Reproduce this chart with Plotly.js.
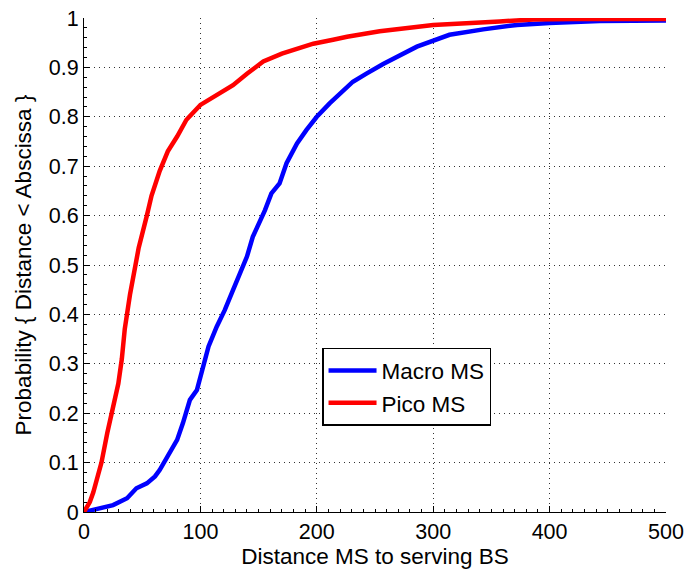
<!DOCTYPE html>
<html>
<head>
<meta charset="utf-8">
<script src="https://cdn.plot.ly/plotly-3.0.1.min.js"></script>
<style>html,body{margin:0;padding:0;background:#fff}#chart{width:684px;height:570px}</style>
</head>
<body>
<div id="chart"></div>
<script>
const macroX = [0, 11, 25, 37, 45, 54, 61, 65, 72, 80, 85, 91, 97, 100, 104, 107, 114, 121, 128, 137, 140, 145, 155.5, 161, 168, 174, 183, 191, 200, 211, 220, 231, 243, 257, 286, 314, 343, 372, 400, 443, 500];
const macroY = [0, 0.007, 0.014, 0.028, 0.048, 0.058, 0.072, 0.085, 0.112, 0.146, 0.18, 0.227, 0.247, 0.274, 0.314, 0.335, 0.375, 0.409, 0.449, 0.497, 0.517, 0.557, 0.611, 0.645, 0.665, 0.706, 0.746, 0.773, 0.80, 0.827, 0.848, 0.871, 0.888, 0.907, 0.942, 0.966, 0.977, 0.986, 0.99, 0.994, 0.995];
const picoX = [0, 5, 8, 15, 20, 24, 29.5, 32.5, 35, 39.5, 44, 47, 54, 58, 65, 72, 80, 88, 100, 114, 128, 140, 154, 170, 185, 197, 214, 226, 254, 300, 357, 386, 420, 500];
const picoY = [0, 0.02, 0.04, 0.10, 0.16, 0.20, 0.26, 0.31, 0.37, 0.44, 0.50, 0.535, 0.60, 0.64, 0.69, 0.73, 0.76, 0.794, 0.824, 0.844, 0.864, 0.887, 0.912, 0.928, 0.94, 0.948, 0.956, 0.962, 0.973, 0.986, 0.993, 0.997, 0.998, 0.998];
const seriesNames = ['Macro MS', 'Pico MS'];
const xTitle = 'Distance MS to serving BS';
const yTitle = 'Probability { Distance < Abscissa }';

const font = 'Liberation Sans, Arial, Helvetica, sans-serif';
const traces = [
  {x: macroX, y: macroY, name: seriesNames[0], mode: 'lines', line: {color: '#0000ff', width: 4.5}},
  {x: picoX, y: picoY, name: seriesNames[1], mode: 'lines', line: {color: '#ff0000', width: 4.5}}
];
const axisCommon = {
  showline: true, linecolor: '#000', linewidth: 1, mirror: false,
  ticks: 'inside', ticklen: 6, tickcolor: '#000', tickwidth: 1,
  showgrid: true, gridcolor: '#333', griddash: '1px,4px', gridwidth: 1,
  zeroline: false, tickfont: {family: font, size: 21.5, color: '#000'}
};
const layout = {
  width: 684, height: 570,
  margin: {l: 84, r: 18, t: 18, b: 58},
  paper_bgcolor: '#fff', plot_bgcolor: '#fff',
  showlegend: true,
  legend: {x: 0.409, y: 0.332, xanchor: 'left', yanchor: 'top',
    bordercolor: '#000', borderwidth: 1.5, bgcolor: '#fff', itemwidth: 48,
    font: {family: font, size: 22.5, color: '#000'}, tracegroupgap: 0},
  xaxis: Object.assign({}, axisCommon, {
    range: [0, 500], tickvals: [0, 100, 200, 300, 400, 500],
    minor: {dtick: 10, tick0: 0, ticks: 'inside', ticklen: 3, tickcolor: '#000', showgrid: false},
    title: {text: xTitle, font: {family: font, size: 22.5, color: '#000'}, standoff: 4}
  }),
  yaxis: Object.assign({}, axisCommon, {
    range: [0, 1], tickvals: [0, 0.1, 0.2, 0.3, 0.4, 0.5, 0.6, 0.7, 0.8, 0.9, 1],
    ticktext: ['0', '0.1', '0.2', '0.3', '0.4', '0.5', '0.6', '0.7', '0.8', '0.9', '1'],
    minor: {dtick: 0.02, tick0: 0, ticks: 'inside', ticklen: 3, tickcolor: '#000', showgrid: false},
    title: {text: yTitle, font: {family: font, size: 22.5, color: '#000'}, standoff: 10}
  })
};
Plotly.newPlot('chart', traces, layout, {displayModeBar: false, staticPlot: true});
</script>
</body>
</html>
